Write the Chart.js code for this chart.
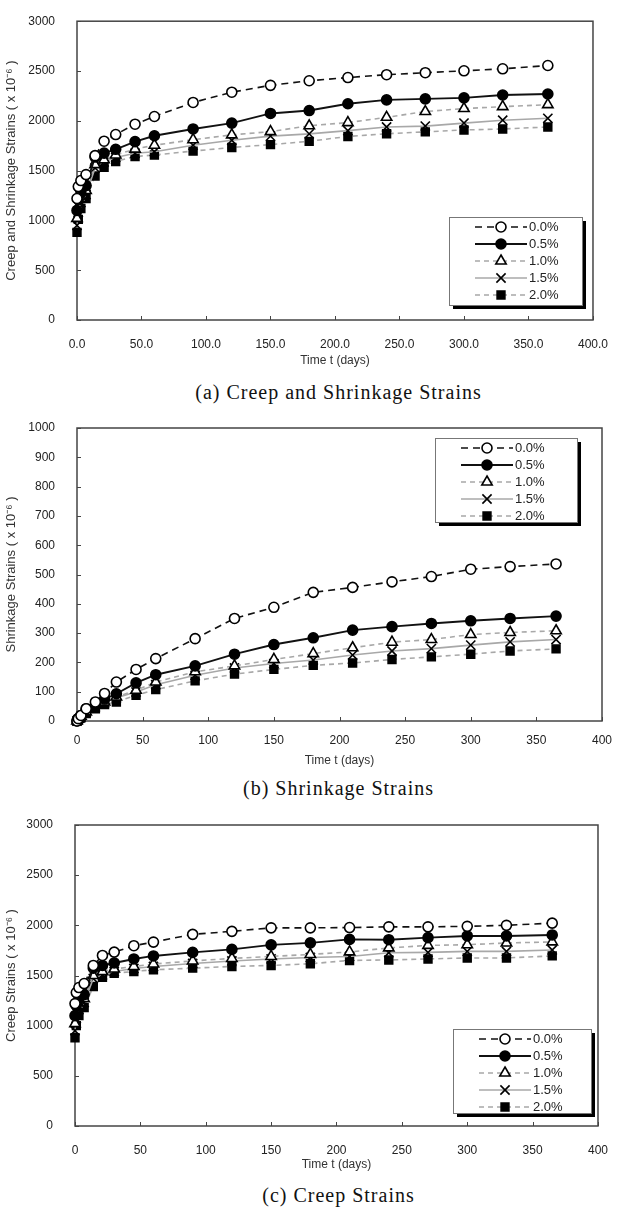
<!DOCTYPE html>
<html>
<head>
<meta charset="utf-8">
<script src="https://cdn.jsdelivr.net/npm/chart.js@4.4.0/dist/chart.umd.min.js"></script>
<style>
    body { margin: 0; background: #fff; width: 617px; height: 1207px; position: relative; overflow: hidden; }
    canvas { position: absolute; left: 0; }
    .cap { position: absolute; left: 77px; width: 523px; text-align: center; font-family: "Liberation Serif", serif; font-size: 20px; color: #111; letter-spacing: 1px; }
</style>
</head>
<body>
<canvas id="chartA" width="617" height="372" style="top:0"></canvas>
<div class="cap" style="top:381px">(a) Creep and Shrinkage Strains</div>
<canvas id="chartB" width="617" height="372" style="top:400px"></canvas>
<div class="cap" style="top:777px">(b) Shrinkage Strains</div>
<canvas id="chartC" width="617" height="376" style="top:800px"></canvas>
<div class="cap" style="top:1184px">(c) Creep Strains</div>

<script>
// thoi gian do (ngay)
const days = [0, 1, 3, 7, 14, 21, 30, 45, 60, 90, 120, 150, 180, 210, 240, 270, 300, 330, 365];
const fiberLabels = ['0.0%', '0.5%', '1.0%', '1.5%', '2.0%'];

// (a) creep + shrinkage
const total00 = [1220, 1340, 1400, 1460, 1650, 1795, 1862, 1966, 2043, 2184, 2287, 2356, 2402, 2434, 2463, 2483, 2502, 2522, 2555];
const total05 = [1100, 1210, 1290, 1350, 1636, 1675, 1714, 1791, 1850, 1918, 1977, 2074, 2103, 2171, 2210, 2220, 2230, 2259, 2269];
const total10 = [1020, 1140, 1220, 1300, 1560, 1609, 1657, 1716, 1755, 1810, 1859, 1891, 1950, 1982, 2035, 2093, 2123, 2142, 2162];
const total15 = [950, 1080, 1180, 1260, 1527, 1586, 1631, 1674, 1690, 1755, 1804, 1846, 1869, 1901, 1938, 1947, 1977, 2006, 2025];
const total20 = [880, 1010, 1120, 1220, 1446, 1534, 1592, 1641, 1657, 1696, 1732, 1761, 1794, 1843, 1870, 1889, 1908, 1918, 1938];

// (b) shrinkage
const shrink00 = [0, 8, 19, 42, 65, 94, 133, 176, 213, 281, 350, 388, 439, 456, 475, 493, 518, 527, 536];
const shrink05 = [0, 8, 19, 42, 55, 75, 93, 130, 158, 188, 228, 261, 284, 310, 322, 333, 342, 350, 358];
const shrink10 = [0, 6, 16, 31, 54, 65, 82, 105, 133, 168, 188, 210, 230, 250, 269, 278, 295, 302, 308];
const shrink15 = [0, 5, 14, 29, 48, 62, 79, 99, 124, 156, 181, 196, 208, 225, 239, 247, 259, 270, 278];
const shrink20 = [0, 5, 11, 25, 42, 56, 65, 88, 107, 137, 160, 176, 190, 198, 210, 219, 228, 239, 246];

// (c) creep
const creep00 = [1220, 1330, 1380, 1420, 1600, 1700, 1733, 1797, 1833, 1910, 1940, 1975, 1975, 1978, 1985, 1985, 1990, 2000, 2022];
const creep05 = [1100, 1200, 1270, 1310, 1573, 1600, 1625, 1665, 1695, 1730, 1760, 1805, 1825, 1860, 1857, 1877, 1894, 1894, 1904];
const creep10 = [1020, 1130, 1200, 1270, 1500, 1540, 1565, 1590, 1615, 1645, 1670, 1690, 1710, 1735, 1775, 1800, 1807, 1824, 1835];
const creep15 = [950, 1070, 1160, 1230, 1470, 1505, 1540, 1570, 1590, 1620, 1645, 1665, 1680, 1690, 1727, 1730, 1740, 1740, 1754];
const creep20 = [880, 1000, 1100, 1180, 1390, 1483, 1523, 1540, 1557, 1573, 1590, 1600, 1617, 1650, 1655, 1665, 1675, 1675, 1695];

const GRAY = '#a8a8a8';
const FONT = '"Liberation Sans", Arial, sans-serif';
const seriesStyle = [
    { borderColor: '#111', borderDash: [7, 5], pointStyle: 'circle', pointRadius: 5, pointBackgroundColor: '#fff' },
    { borderColor: '#111', borderDash: [], pointStyle: 'circle', pointRadius: 5, pointBackgroundColor: '#000' },
    { borderColor: GRAY, borderDash: [5, 4], pointStyle: 'triangle', pointRadius: 6, pointBackgroundColor: '#fff' },
    { borderColor: GRAY, borderDash: [], pointStyle: 'crossRot', pointRadius: 6.5, pointBackgroundColor: '#000' },
    { borderColor: GRAY, borderDash: [5, 4], pointStyle: 'rect', pointRadius: 5.5, pointBackgroundColor: '#000' }
];

function buildDatasets(list) {
    return list.map((vals, i) => Object.assign({
        label: fiberLabels[i],
        data: days.map((d, k) => ({ x: d, y: vals[k] })),
        borderWidth: i === 1 ? 1.9 : 1.6,
        pointBorderColor: '#000',
        pointBorderWidth: 1.6,
        clip: false
    }, seriesStyle[i]));
}

// khung, vach chia va chu giai kieu Excel
const framePlugin = {
    id: 'frame',
    beforeDatasetsDraw(chart) {
        const { ctx, chartArea: a, scales } = chart;
        ctx.save();
        ctx.strokeStyle = '#444';
        ctx.lineWidth = 1;
        ctx.beginPath();
        scales.x.ticks.forEach(t => {
            const px = Math.round(scales.x.getPixelForValue(t.value)) + 0.5;
            ctx.moveTo(px, a.bottom); ctx.lineTo(px, a.bottom - 4);
        });
        scales.y.ticks.forEach(t => {
            const py = Math.round(scales.y.getPixelForValue(t.value)) + 0.5;
            ctx.moveTo(a.left, py); ctx.lineTo(a.left + 4, py);
        });
        ctx.stroke();
        ctx.lineWidth = 1.5;
        ctx.strokeRect(a.left, a.top, a.right - a.left, a.bottom - a.top);
        ctx.restore();
    },
    afterDraw(chart, args, opts) {
        const box = opts.box;
        if (!box) return;
        const { ctx } = chart;
        ctx.save();
        ctx.fillStyle = '#000';
        ctx.fillRect(box.left + 4, box.top + 4, box.width, box.height);
        ctx.fillStyle = '#fff';
        ctx.fillRect(box.left, box.top, box.width, box.height);
        ctx.strokeStyle = '#777';
        ctx.lineWidth = 1;
        ctx.strokeRect(box.left + 0.5, box.top + 0.5, box.width, box.height);
        ctx.font = '13px ' + FONT;
        ctx.textBaseline = 'middle';
        chart.data.datasets.forEach((ds, i) => {
            const y = box.top + 10 + i * 17;
            const x0 = box.left + 26, x1 = box.left + 78, xm = (x0 + x1) / 2;
            ctx.strokeStyle = ds.borderColor;
            ctx.lineWidth = ds.borderWidth;
            ctx.setLineDash(ds.borderDash);
            ctx.beginPath(); ctx.moveTo(x0, y); ctx.lineTo(x1, y); ctx.stroke();
            ctx.setLineDash([]);
            ctx.fillStyle = ds.pointBackgroundColor;
            ctx.strokeStyle = '#000';
            ctx.lineWidth = 1.6;
            Chart.helpers.drawPoint(ctx, { pointStyle: ds.pointStyle, radius: ds.pointRadius, borderWidth: 1.6, rotation: 0 }, xm, y);
            ctx.fillStyle = '#222';
            ctx.fillText(ds.label, x1 + 2, y);
        });
        ctx.restore();
    }
};

function makeChart(id, series, cfg) {
    const canvas = document.getElementById(id);
    new Chart(canvas.getContext('2d'), {
        type: 'line',
        data: { datasets: buildDatasets(series) },
        plugins: [framePlugin],
        options: {
            responsive: false,
            animation: false,
            layout: { padding: { top: cfg.plotTop, right: 617 - cfg.plotRight, left: 0, bottom: 0 } },
            plugins: {
                legend: { display: false },
                tooltip: { enabled: false },
                frame: { box: cfg.legend }
            },
            scales: {
                x: {
                    type: 'linear', min: 0, max: 400,
                    grid: { display: false },
                    border: { display: false },
                    afterFit: s => { s.height = canvas.height - cfg.plotBottom; },
                    ticks: {
                        stepSize: 50, padding: cfg.xPad, color: '#222',
                        font: { family: FONT, size: 12 },
                        maxRotation: 0,
                        callback: v => cfg.decimals ? v.toFixed(1) : String(v)
                    },
                    title: {
                        display: true, text: 'Time t (days)', color: '#333', padding: { top: cfg.xTitlePad },
                        font: { family: FONT, size: 12 }
                    }
                },
                y: {
                    min: 0, max: cfg.yMax,
                    grid: { display: false },
                    border: { display: false },
                    afterFit: s => { s.width = cfg.plotLeft; },
                    ticks: {
                        stepSize: cfg.yStep, padding: 14, color: '#222',
                        font: { family: FONT, size: 12 },
                        callback: v => String(v)
                    },
                    title: {
                        display: true, text: cfg.yTitle + ' ( x 10\u207B\u2076 )', color: '#333',
                        font: { family: FONT, size: 13 }
                    }
                }
            }
        }
    });
}

makeChart('chartA', [total00, total05, total10, total15, total20], {
    plotTop: 12, plotBottom: 320, plotLeft: 77, plotRight: 599,
    yMax: 3000, yStep: 500, decimals: true, xPad: 9, xTitlePad: 8,
    yTitle: 'Creep and Shrinkage Strains',
    legend: { left: 449, top: 217, width: 133, height: 88 }
});
makeChart('chartB', [shrink00, shrink05, shrink10, shrink15, shrink20], {
    plotTop: 28, plotBottom: 321, plotLeft: 77, plotRight: 602,
    yMax: 1000, yStep: 100, decimals: false, xPad: 4, xTitlePad: 9,
    yTitle: 'Shrinkage Strains',
    legend: { left: 435, top: 38, width: 142, height: 84 }
});
makeChart('chartC', [creep00, creep05, creep10, creep15, creep20], {
    plotTop: 25, plotBottom: 326, plotLeft: 75, plotRight: 605,
    yMax: 3000, yStep: 500, decimals: false, xPad: 9, xTitlePad: 7,
    yTitle: 'Creep Strains',
    legend: { left: 453, top: 229, width: 138, height: 84 }
});
</script>
</body>
</html>
